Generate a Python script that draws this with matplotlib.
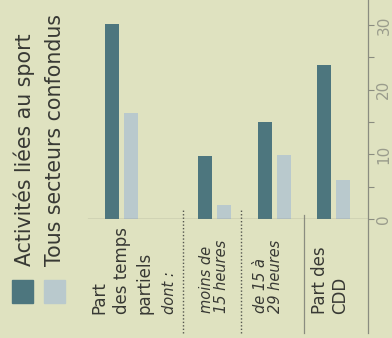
import matplotlib.pyplot as plt
from matplotlib.patches import Rectangle
from matplotlib.transforms import blended_transform_factory

# values (%)
categories = ["Part\ndes temps\npartiels", "moins de\n15 heures", "de 15 à\n29 heures", "Part des\nCDD"]
sport = [30.2, 9.8, 15.0, 23.8]
all_sectors = [16.4, 2.1, 9.9, 6.1]
series_names = ["Activités liées au sport", "Tous secteurs confondus"]
ticks = [0, 10, 20, 30]
minor_ticks = [5, 15, 25]

BG = "#dfe2c0"
DARK = "#4d767e"
LIGHT = "#b9c9cd"
INK = "#383934"
AXC = "#8a8c80"

plt.rcParams["font.family"] = ["DejaVu Sans"]

fig = plt.figure(figsize=(3.92, 3.38), dpi=100)
fig.patch.set_facecolor(BG)
W, H = 392, 338
# axes: pixel box x 0..368, y 0..219 (from top)
ax = fig.add_axes([0, (H - 219) / H, 368 / W, 219 / H])
ax.set_facecolor(BG)
for s in ax.spines.values():
    s.set_visible(False)

# group layout (1 unit = 60 px)
pos = [0, 1.55, 2.55, 3.53]
off, bw = 0.158, 0.235
ax.set_xlim(-2.02, 4.11)
ax.set_ylim(0, 33.85)

ax.bar([p - off for p in pos], sport, width=bw, color=DARK, zorder=3)
ax.bar([p + off for p in pos], all_sectors, width=bw, color=LIGHT, zorder=3)

# value axis on the right (chart is printed rotated)
ax.yaxis.tick_right()
ax.set_yticks(ticks)
ax.set_yticks(minor_ticks, minor=True)
ax.set_yticklabels([str(t) for t in ticks], rotation=90, va="center",
                   fontsize=11, color="#9a9c8c")
ax.tick_params(axis="y", which="both", direction="out", length=4,
               color=AXC, width=0.8, pad=2)
ax.tick_params(axis="x", bottom=False, labelbottom=False)

ax.axvline(4.11, ymin=-0.52, ymax=1, color=AXC, lw=0.9, clip_on=False)
ax.axhline(0, xmin=88 / 368, xmax=1, color="#6f7168", lw=0.9, zorder=4)

# separators between rows
ax.axvline(1.03, ymin=-0.52, ymax=0.04, color="#55574f", lw=1.0, ls=(0, (1, 1.5)), clip_on=False)
ax.axvline((pos[1] + pos[2]) / 2 - 0.05, ymin=-0.52, ymax=0.04, color="#55574f", lw=1.0,
           ls=(0, (1, 1.5)), clip_on=False)
ax.axvline((pos[2] + pos[3]) / 2, ymin=-0.52, ymax=0.02, color=AXC, lw=0.9, clip_on=False)

# category labels
tr = blended_transform_factory(ax.transData, ax.transAxes)
styles = ["normal", "italic", "italic", "normal"]
label_dx = [0.01, -0.01, -0.11, -0.05]
label_y = [-0.434, -0.43, -0.43, -0.434]
spacing = [1.3, 1.0, 1.0, 1.1]
for p, lab, st, dx, yy, ls in zip(pos, categories, styles, label_dx, label_y, spacing):
    ax.text(p + dx, yy, lab, transform=tr, rotation=90, ha="center", va="bottom",
            fontsize=12 if st == "normal" else 10.5, style=st, color=INK,
            linespacing=ls, multialignment="left")
ax.text(0.81, -0.434, "dont :", transform=tr, rotation=90, ha="center", va="bottom",
        fontsize=10.5, style="italic", color=INK)

# legend, drawn by hand because it is rotated
for x0, col in [(12, DARK), (44, LIGHT)]:
    fig.add_artist(Rectangle((x0 / W, (H - 303) / H), 21 / W, 23 / H,
                             transform=fig.transFigure, color=col))
for xc, name in [(24, series_names[0]), (55, series_names[1])]:
    fig.text(xc / W, (H - 266) / H, name, rotation=90, ha="center", va="bottom",
             fontsize=14.8, color=INK)

fig.savefig("out.png", dpi=100, facecolor=BG)
